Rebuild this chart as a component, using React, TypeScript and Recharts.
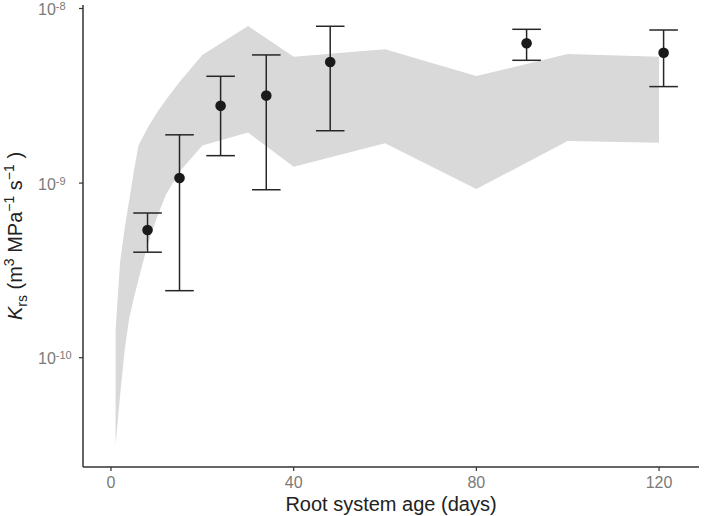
import React from 'react';
import { ComposedChart, Area, Scatter, ErrorBar, XAxis, YAxis } from 'recharts';

// Model envelope (grey ribbon)
const ribbonDays = [1, 2, 3, 4, 5, 6, 8, 10, 12, 15, 20, 30, 40, 60, 80, 100, 120];
const ribbonLower = [3.16e-11, 6.11e-11, 1.11e-10, 1.69e-10, 2.2e-10, 2.79e-10, 4.42e-10, 6.3e-10, 8.55e-10, 1.16e-9, 1.64e-9, 1.95e-9, 1.24e-9, 1.69e-9, 9.25e-10, 1.74e-9, 1.7e-9];
const ribbonUpper = [1.44e-10, 3.53e-10, 5.53e-10, 8.0e-10, 1.16e-9, 1.64e-9, 2.07e-9, 2.52e-9, 2.99e-9, 3.79e-9, 5.42e-9, 7.94e-9, 5.3e-9, 5.84e-9, 4.1e-9, 5.48e-9, 5.3e-9];

// Measured Krs (points with error bars)
const obsDays = [8, 15, 24, 34, 48, 91, 121];
const obsMean = [5.39e-10, 1.069e-9, 2.77e-9, 3.17e-9, 4.94e-9, 6.32e-9, 5.58e-9];
const obsLower = [4.02e-10, 2.42e-10, 1.436e-9, 9.16e-10, 1.995e-9, 5.05e-9, 3.57e-9];
const obsUpper = [6.74e-10, 1.89e-9, 4.09e-9, 5.42e-9, 7.91e-9, 7.6e-9, 7.53e-9];

const xTicks = [0, 40, 80, 120];
const yTicks = [1e-10, 1e-9, 1e-8];
const yTickExponents = ['-10', '-9', '-8'];

const xDomain = [-6.13, 128.75];
const yDomain = [Math.pow(10, -10.626), Math.pow(10, -7.98)];

const ribbonData = ribbonDays.map((d, i) => ({ x: d, range: [ribbonLower[i], ribbonUpper[i]] }));
const obsData = obsDays.map((d, i) => ({
  x: d,
  y: obsMean[i],
  err: [obsMean[i] - obsLower[i], obsUpper[i] - obsMean[i]],
}));

const FONT = '"Liberation Sans", Arial, Helvetica, sans-serif';
const TICK_COLOR = '#7a7a7a';
const AXIS_COLOR = '#333333';

const XTick = (props: any) => {
  const { x, y, payload } = props;
  return (
    <text x={x} y={y + 17} textAnchor="middle" fontFamily={FONT} fontSize={16} fill={TICK_COLOR}>
      {payload.value}
    </text>
  );
};

const YTick = (props: any) => {
  const { x, y, payload } = props;
  const idx = yTicks.findIndex((t) => Math.abs(Math.log10(t) - Math.log10(payload.value)) < 1e-6);
  const exp = idx >= 0 ? yTickExponents[idx] : '';
  return (
    <text x={x - 39} y={y + 6.5} textAnchor="start" fontFamily={FONT} fontSize={16} fill={TICK_COLOR}>
      <tspan>10</tspan>
      <tspan fontSize={11} dy={-5}>{exp}</tspan>
    </text>
  );
};

const YLabel = () => {
  const cx = 22;
  const cy = 236;
  return (
    <text
      x={cx}
      y={cy}
      transform={`rotate(-90, ${cx}, ${cy})`}
      textAnchor="middle"
      fontFamily={FONT}
      fontSize={20}
      fill="#222222"
    >
      <tspan fontStyle="italic">K</tspan>
      <tspan fontSize={14} dy={5}>rs</tspan>
      <tspan dy={-5}> (m</tspan>
      <tspan fontSize={14} dy={-8}>3</tspan>
      <tspan dy={8}> MPa</tspan>
      <tspan fontSize={14} dy={-8}>−1</tspan>
      <tspan dy={8}> s</tspan>
      <tspan fontSize={14} dy={-8}>−1</tspan>
      <tspan dy={8}> )</tspan>
    </text>
  );
};

const XLabel = () => (
  <text x={391} y={511} textAnchor="middle" fontFamily={FONT} fontSize={20} fill="#222222">
    Root system age (days)
  </text>
);

const Dot = (props: any) => {
  const { cx, cy } = props;
  if (cx == null || cy == null) return null;
  return <circle cx={cx} cy={cy} r={5.3} fill="#1a1a1a" />;
};

export default function App() {
  return (
    <div style={{ position: 'absolute', left: 0, top: 0, width: 709, height: 516, background: '#ffffff' }}>
      <ComposedChart width={709} height={516} margin={{ top: 5, right: 10, bottom: 0, left: 0 }}>
        <XAxis
          dataKey="x"
          type="number"
          domain={xDomain}
          allowDataOverflow
          ticks={xTicks}
          interval={0}
          height={49}
          tickSize={4}
          tickMargin={0}
          tick={<XTick />}
          axisLine={{ stroke: AXIS_COLOR, strokeWidth: 1.5 }}
          tickLine={{ stroke: AXIS_COLOR, strokeWidth: 1.2 }}
          label={{ content: () => <XLabel /> }}
        />
        <YAxis
          type="number"
          scale="log"
          domain={yDomain}
          allowDataOverflow
          ticks={yTicks}
          interval={0}
          width={83}
          tickSize={4}
          tickMargin={2}
          tick={<YTick />}
          axisLine={{ stroke: AXIS_COLOR, strokeWidth: 1.5 }}
          tickLine={{ stroke: AXIS_COLOR, strokeWidth: 1.2 }}
          label={{ content: () => <YLabel /> }}
        />
        <Area
          data={ribbonData}
          dataKey="range"
          type="linear"
          fill="#d9d9d9"
          fillOpacity={1}
          stroke="none"
          isAnimationActive={false}
          dot={false}
          activeDot={false}
        />
        <Scatter data={obsData} dataKey="y" shape={<Dot />} isAnimationActive={false}>
          <ErrorBar dataKey="err" direction="y" width={14.3} stroke="#262626" strokeWidth={1.5} />
        </Scatter>
      </ComposedChart>
    </div>
  );
}
